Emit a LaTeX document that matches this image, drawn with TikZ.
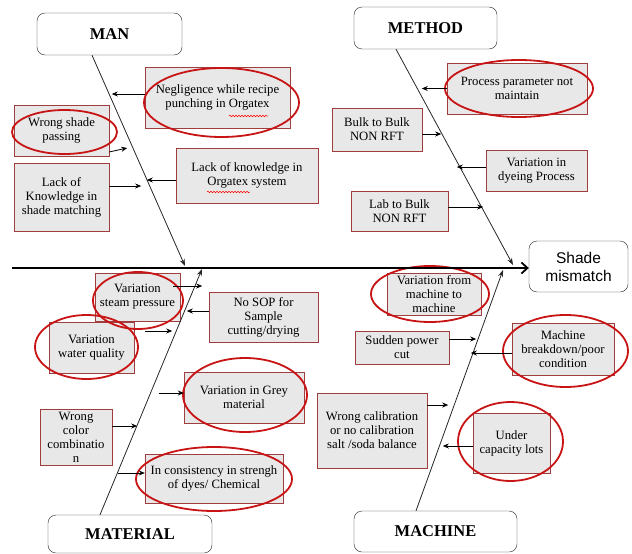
\documentclass[tikz,border=0pt]{standalone}
\usepackage{fontspec}
\setmainfont{Liberation Serif}
\newfontfamily\effectfont{Liberation Sans}
\usepackage{tikz}
\usetikzlibrary{shapes.geometric, arrows.meta, positioning, calc, decorations.pathmorphing}
\usepackage{xcolor}
\definecolor{boxred}{RGB}{160,62,62}
\definecolor{boxfill}{RGB}{232,232,232}
\definecolor{ringred}{RGB}{200,20,20}

\begin{document}
\begin{tikzpicture}[x=1pt, y=-1pt,
    catbox/.style = {rectangle, draw=black!85, fill=white, rounded corners=8pt, font=\bfseries\fontsize{16.5}{18}\selectfont, inner sep=0pt},
    causebox/.style = {rectangle, draw=boxred, fill=boxfill, align=center, font=\fontsize{12.7}{14}\selectfont, inner sep=1pt},
    ring/.style = {draw=ringred, line width=1.8pt},
    bone/.style = {draw=black!85, line width=0.8pt, -{Stealth[length=7pt,width=5pt]}},
    causearrow/.style = {draw=black, line width=0.8pt, -{Stealth[length=6pt,width=5pt]}},
    spine/.style = {draw=black, line width=2.5pt, -{Straight Barb[length=6pt,width=11pt,line width=1.8pt]}},
    squiggle/.style = {draw=red, line width=0.5pt, decorate, decoration={snake, amplitude=0.8pt, segment length=3pt}}
]
\useasboundingbox (0,0) rectangle (632,554);

% Category: MAN
\node (man) [catbox, minimum width=145pt, minimum height=42pt] at (109.5,34) {MAN};
% Category: METHOD
\node (method) [catbox, minimum width=143pt, minimum height=42pt] at (425.5,28) {METHOD};
% Category: MATERIAL
\node (material) [catbox, minimum width=164pt, minimum height=38pt] at (130,534) {MATERIAL};
% Category: MACHINE
\node (machine) [catbox, minimum width=163pt, minimum height=41pt] at (435.5,531.5) {MACHINE};
% Effect
\node (shade) [catbox, font=\effectfont\fontsize{15.5}{18}\selectfont, align=center, minimum width=99pt, minimum height=51pt] at (578.5,266.5) {Shade\\mismatch};

% Causes: MAN
\node (neglig) [causebox, minimum width=145pt, minimum height=61pt] at (217.5,97.5) {Negligence while recipe\\punching in Orgatex};
\node (wrongshade) [causebox, minimum width=95pt, minimum height=51pt] at (61.5,130.5) {Wrong shade\\passing};
\node (lackshade) [causebox, minimum width=95pt, minimum height=68pt] at (61.5,197) {Lack of\\Knowledge in\\shade matching};
\node (lackorg) [causebox, minimum width=142pt, minimum height=55pt] at (247,175.5) {Lack of knowledge in\\Orgatex system};

% Causes: METHOD
\node (process) [causebox, minimum width=140pt, minimum height=51pt] at (517,88.5) {Process parameter not\\maintain};
\node (bulk) [causebox, minimum width=90pt, minimum height=43pt] at (377,129.5) {Bulk to Bulk\\NON RFT};
\node (dyeing) [causebox, minimum width=101pt, minimum height=41pt] at (536.5,170.5) {Variation in\\dyeing Process};
\node (labbulk) [causebox, minimum width=97pt, minimum height=40pt] at (399.5,211) {Lab to Bulk\\NON RFT};

% Causes: MATERIAL
\node (steam) [causebox, minimum width=85pt, minimum height=48pt] at (137.5,297) {Variation\\steam pressure};
\node (water) [causebox, minimum width=85pt, minimum height=51pt] at (91.5,347.5) {Variation\\water quality};
\node (sop) [causebox, minimum width=109pt, minimum height=50pt] at (263.5,317) {No SOP for\\Sample\\cutting/drying};
\node (grey) [causebox, minimum width=120pt, minimum height=51pt] at (244,397.5) {Variation in Grey\\material};
\node (color) [causebox, minimum width=72pt, minimum height=56pt, inner sep=0pt] at (76,437) {Wrong\\color\\combinatio\\n};
\node (dyes) [causebox, minimum width=138pt, minimum height=49pt] at (214,478.5) {In consistency in strengh\\of dyes/ Chemical};

% Causes: MACHINE
\node (machvar) [causebox, minimum width=94pt, minimum height=42pt, inner sep=0pt] at (434,294) {Variation from\\machine to\\machine};
\node (power) [causebox, minimum width=94pt, minimum height=33pt] at (402,347.5) {Sudden power\\cut};
\node (breakdown) [causebox, minimum width=102pt, minimum height=52pt] at (563,349) {Machine\\breakdown/poor\\condition};
\node (calib) [causebox, minimum width=110pt, minimum height=75pt] at (372,430.5) {Wrong calibration\\or no calibration\\salt /soda balance};
\node (capacity) [causebox, minimum width=77pt, minimum height=60pt] at (511.5,443) {Under\\capacity lots};

% Highlight rings
\draw [ring] (221.5,102.5) ellipse [x radius=77.5pt, y radius=34.5pt];
\draw [ring] (64.5,132) ellipse [x radius=52.5pt, y radius=22pt];
\draw [ring] (519,88.5) ellipse [x radius=74pt, y radius=28.5pt];
\draw [ring] (138,300.5) ellipse [x radius=45pt, y radius=28.5pt];
\draw [ring] (86.5,347) ellipse [x radius=51.5pt, y radius=32pt];
\draw [ring] (245,395) ellipse [x radius=62pt, y radius=37pt];
\draw [ring] (214,479) ellipse [x radius=78pt, y radius=32pt];
\draw [ring] (430,294) ellipse [x radius=59pt, y radius=28pt];
\draw [ring] (565.5,351) ellipse [x radius=62.5pt, y radius=36pt];
\draw [ring] (510.5,441.5) ellipse [x radius=52.5pt, y radius=39.5pt];

% Spelling marks
\draw [squiggle] (229,116) -- (268,116);
\draw [squiggle] (207,192) -- (250,192);

% Spine and bones
\coordinate (tail) at (12,268);
\coordinate (manhead) at (185,266);
\coordinate (methodhead) at (513,265);
\coordinate (mathead) at (202,269);
\coordinate (machhead) at (503,270);
\draw [spine] (tail) -- (shade.west |- tail);
\draw [bone] ([xshift=-17.5pt]man.south) -- (manhead);
\draw [bone] ([xshift=-29.5pt]method.south) -- (methodhead);
\draw [bone] ([xshift=-30pt]material.north) -- (mathead);
\draw [bone] ([xshift=-19.5pt]machine.north) -- (machhead);

% Connections
\draw [causearrow] ([yshift=3.5pt]neglig.west) -- ++(-33,0);
\draw [causearrow] ([yshift=-21.5pt]wrongshade.east) -- ++(18,-4);
\draw [causearrow] ([yshift=11pt]lackshade.east) -- ++(32,0);
\draw [causearrow] ([yshift=-4.5pt]lackorg.west) -- ++(-29,0);
\draw [causearrow] (process.west) -- ++(-25,0);
\draw [causearrow] ([yshift=-4.5pt]bulk.east) -- ++(19,0);
\draw [causearrow] ([yshift=3.5pt]dyeing.west) -- ++(-29,0);
\draw [causearrow] ([yshift=4pt]labbulk.east) -- ++(35,0);
\draw [causearrow] ([xshift=-7pt,yshift=11pt]steam.east) -- ++(29,0);
\draw [causearrow] ([xshift=11pt,yshift=16.5pt]water.east) -- ++(27,0);
\draw [causearrow] ([yshift=6pt]sop.west) -- ++(-22,0);
\draw [causearrow] ([xshift=-25pt,yshift=4.5pt]grey.west) -- ([yshift=4.5pt]grey.west);
\draw [causearrow] ([yshift=11pt]color.east) -- ++(25,0);
\draw [causearrow] ([xshift=-27pt,yshift=5.5pt]dyes.west) -- ([yshift=5.5pt]dyes.west);
\draw [causearrow] ([yshift=8.5pt]power.east) -- ++(27,0);
\draw [causearrow] ([yshift=-4pt]breakdown.west) -- ++(-41,0);
\draw [causearrow] ([yshift=25.5pt]calib.east) -- ++(21,0);
\draw [causearrow] ([yshift=-3pt]capacity.west) -- ++(-30,0);

\end{tikzpicture}
\end{document}
